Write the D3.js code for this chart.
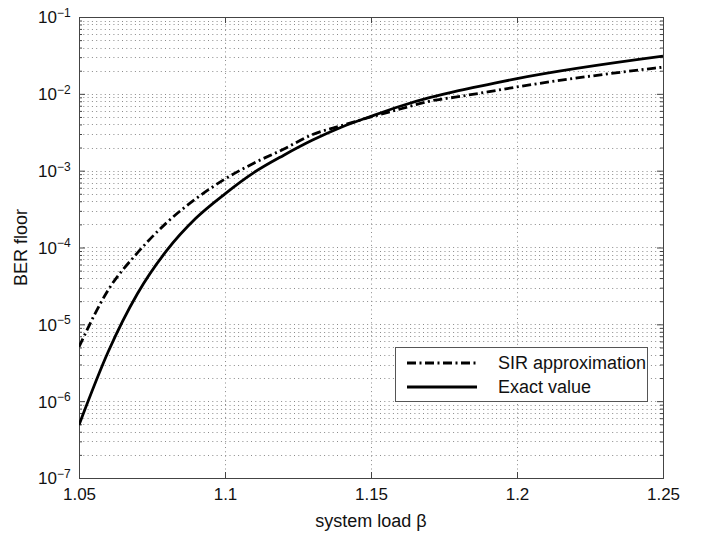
<!DOCTYPE html>
<html>
<head>
<meta charset="utf-8">
<script src="https://cdn.jsdelivr.net/npm/d3@7"></script>
<style>
  html, body { margin: 0; padding: 0; background: #fff; }
  svg { display: block; font-family: "Liberation Sans", Arial, sans-serif; }
</style>
</head>
<body>
<svg id="chart" width="702" height="536"></svg>
<script>
// ---- data ----
const loadValues = [1.05, 1.06, 1.07, 1.08, 1.09, 1.10, 1.11, 1.12, 1.13, 1.14, 1.15, 1.16, 1.17, 1.18, 1.19, 1.20, 1.25];
const exactValues = [4.9e-7, 4.4e-6, 2.5e-5, 9.1e-5, 2.4e-4, 5.0e-4, 9.5e-4, 1.58e-3, 2.5e-3, 3.7e-3, 5.1e-3, 6.9e-3, 8.9e-3, 1.1e-2, 1.32e-2, 1.58e-2, 3.1e-2];
const sirValues = [5.1e-6, 2.8e-5, 8.5e-5, 2.1e-4, 4.3e-4, 7.8e-4, 1.26e-3, 1.9e-3, 2.96e-3, 3.87e-3, 5.0e-3, 6.35e-3, 8.0e-3, 9.2e-3, 1.06e-2, 1.23e-2, 2.23e-2];
const xTickValues = [1.05, 1.1, 1.15, 1.2, 1.25];
const xTickLabels = ["1.05", "1.1", "1.15", "1.2", "1.25"];
const yExponents = [-7, -6, -5, -4, -3, -2, -1];
const seriesNames = ["SIR approximation", "Exact value"];
const xLabel = "system load \u03B2";
const yLabel = "BER floor";

// ---- layout ----
const L = 79, R = 663, T = 17, B = 478;
const svg = d3.select("#chart");
const x = d3.scaleLinear().domain([1.05, 1.25]).range([L, R]);
const y = d3.scaleLog().domain([1e-7, 1e-1]).range([B, T]);

const majorY = yExponents.map(e => Math.pow(10, e));
const minorY = [];
for (let e = -7; e < -1; e++) for (let m = 2; m <= 9; m++) minorY.push(m * Math.pow(10, e));

// grid
const grid = svg.append("g").attr("stroke", "#8a8a8a").attr("stroke-width", 1)
  .attr("stroke-dasharray", "1,3.3").attr("fill", "none");
minorY.concat(majorY.slice(1, -1)).forEach(v => {
  const yy = Math.round(y(v)) + 0.5;
  grid.append("line").attr("x1", L).attr("x2", R).attr("y1", yy).attr("y2", yy);
});
xTickValues.slice(1, -1).forEach(v => {
  const xx = Math.round(x(v)) + 0.5;
  grid.append("line").attr("x1", xx).attr("x2", xx).attr("y1", T).attr("y2", B);
});

// axes via d3.axis
const axisColor = "#444";
const xAxisB = svg.append("g").attr("transform", `translate(0,${B})`)
  .call(d3.axisBottom(x).tickValues(xTickValues).tickSizeInner(-6).tickSizeOuter(0).tickPadding(10)
    .tickFormat((d, i) => xTickLabels[i]));
const xAxisT = svg.append("g").attr("transform", `translate(0,${T})`)
  .call(d3.axisTop(x).tickValues(xTickValues).tickSizeInner(-6).tickSizeOuter(0).tickFormat(""));
const yAxisL = svg.append("g").attr("transform", `translate(${L},0)`)
  .call(d3.axisLeft(y).tickValues(majorY).tickSizeInner(-6).tickSizeOuter(0).tickPadding(20).tickFormat(""));
const yAxisR = svg.append("g").attr("transform", `translate(${R},0)`)
  .call(d3.axisRight(y).tickValues(majorY).tickSizeInner(-6).tickSizeOuter(0).tickFormat(""));
const yMinL = svg.append("g").attr("transform", `translate(${L},0)`)
  .call(d3.axisLeft(y).tickValues(minorY).tickSizeInner(-3).tickSizeOuter(0).tickFormat(""));
const yMinR = svg.append("g").attr("transform", `translate(${R},0)`)
  .call(d3.axisRight(y).tickValues(minorY).tickSizeInner(-3).tickSizeOuter(0).tickFormat(""));
[xAxisB, xAxisT, yAxisL, yAxisR, yMinL, yMinR].forEach(g => {
  g.select(".domain").remove();
  g.selectAll(".tick line").attr("stroke", axisColor);
});
xAxisB.selectAll(".tick text").attr("font-size", 17).attr("fill", "#111")
  .attr("font-family", "Liberation Sans, Arial, sans-serif").attr("dy", "0.71em");

// y tick labels with superscripts
yAxisL.selectAll(".tick").each(function(d, i) {
  const t = d3.select(this).append("text")
    .attr("x", -41).attr("y", 0).attr("dy", "0.35em")
    .attr("fill", "#111").attr("font-size", 17)
    .attr("font-family", "Liberation Sans, Arial, sans-serif")
    .attr("text-anchor", "start");
  t.append("tspan").text("10");
  t.append("tspan").attr("dy", "-0.55em").attr("font-size", 12).text("\u2212" + String(-yExponents[i]));
});

// box
svg.append("rect").attr("x", L + 0.5).attr("y", T + 0.5).attr("width", R - L).attr("height", B - T)
  .attr("fill", "none").attr("stroke", axisColor).attr("stroke-width", 1);

// curves
svg.append("clipPath").attr("id", "clip").append("rect")
  .attr("x", L).attr("y", T).attr("width", R - L).attr("height", B - T);
const line = d3.line().x(d => x(d[0])).y(d => y(d[1])).curve(d3.curveMonotoneX);
const curves = svg.append("g").attr("clip-path", "url(#clip)");
curves.append("path").datum(loadValues.map((v, i) => [v, sirValues[i]]))
  .attr("d", line).attr("fill", "none").attr("stroke", "#000").attr("stroke-width", 2.8)
  .attr("stroke-dasharray", "9,3.5,2,3.5");
curves.append("path").datum(loadValues.map((v, i) => [v, exactValues[i]]))
  .attr("d", line).attr("fill", "none").attr("stroke", "#000").attr("stroke-width", 2.8);

// legend
const lg = svg.append("g");
lg.append("rect").attr("x", 395.5).attr("y", 347.5).attr("width", 252).attr("height", 54)
  .attr("fill", "#fff").attr("stroke", "#555").attr("stroke-width", 1);
const rows = [{ y: 363, dash: "9,3.5,2,3.5" }, { y: 387, dash: null }];
rows.forEach((r, i) => {
  const ln = lg.append("line").attr("x1", 407).attr("x2", 477).attr("y1", r.y).attr("y2", r.y)
    .attr("stroke", "#000").attr("stroke-width", 2.8);
  if (r.dash) ln.attr("stroke-dasharray", r.dash);
  lg.append("text").attr("x", 498).attr("y", r.y).attr("dy", "0.36em")
    .attr("font-size", 18).attr("fill", "#111").text(seriesNames[i]);
});

// axis labels
svg.append("text").attr("x", (L + R) / 2).attr("y", 527).attr("text-anchor", "middle")
  .attr("font-size", 18).attr("fill", "#111").text(xLabel);
svg.append("text").attr("transform", `translate(27,${(T + B) / 2}) rotate(-90)`)
  .attr("text-anchor", "middle").attr("font-size", 18).attr("fill", "#111").text(yLabel);
</script>
</body>
</html>
